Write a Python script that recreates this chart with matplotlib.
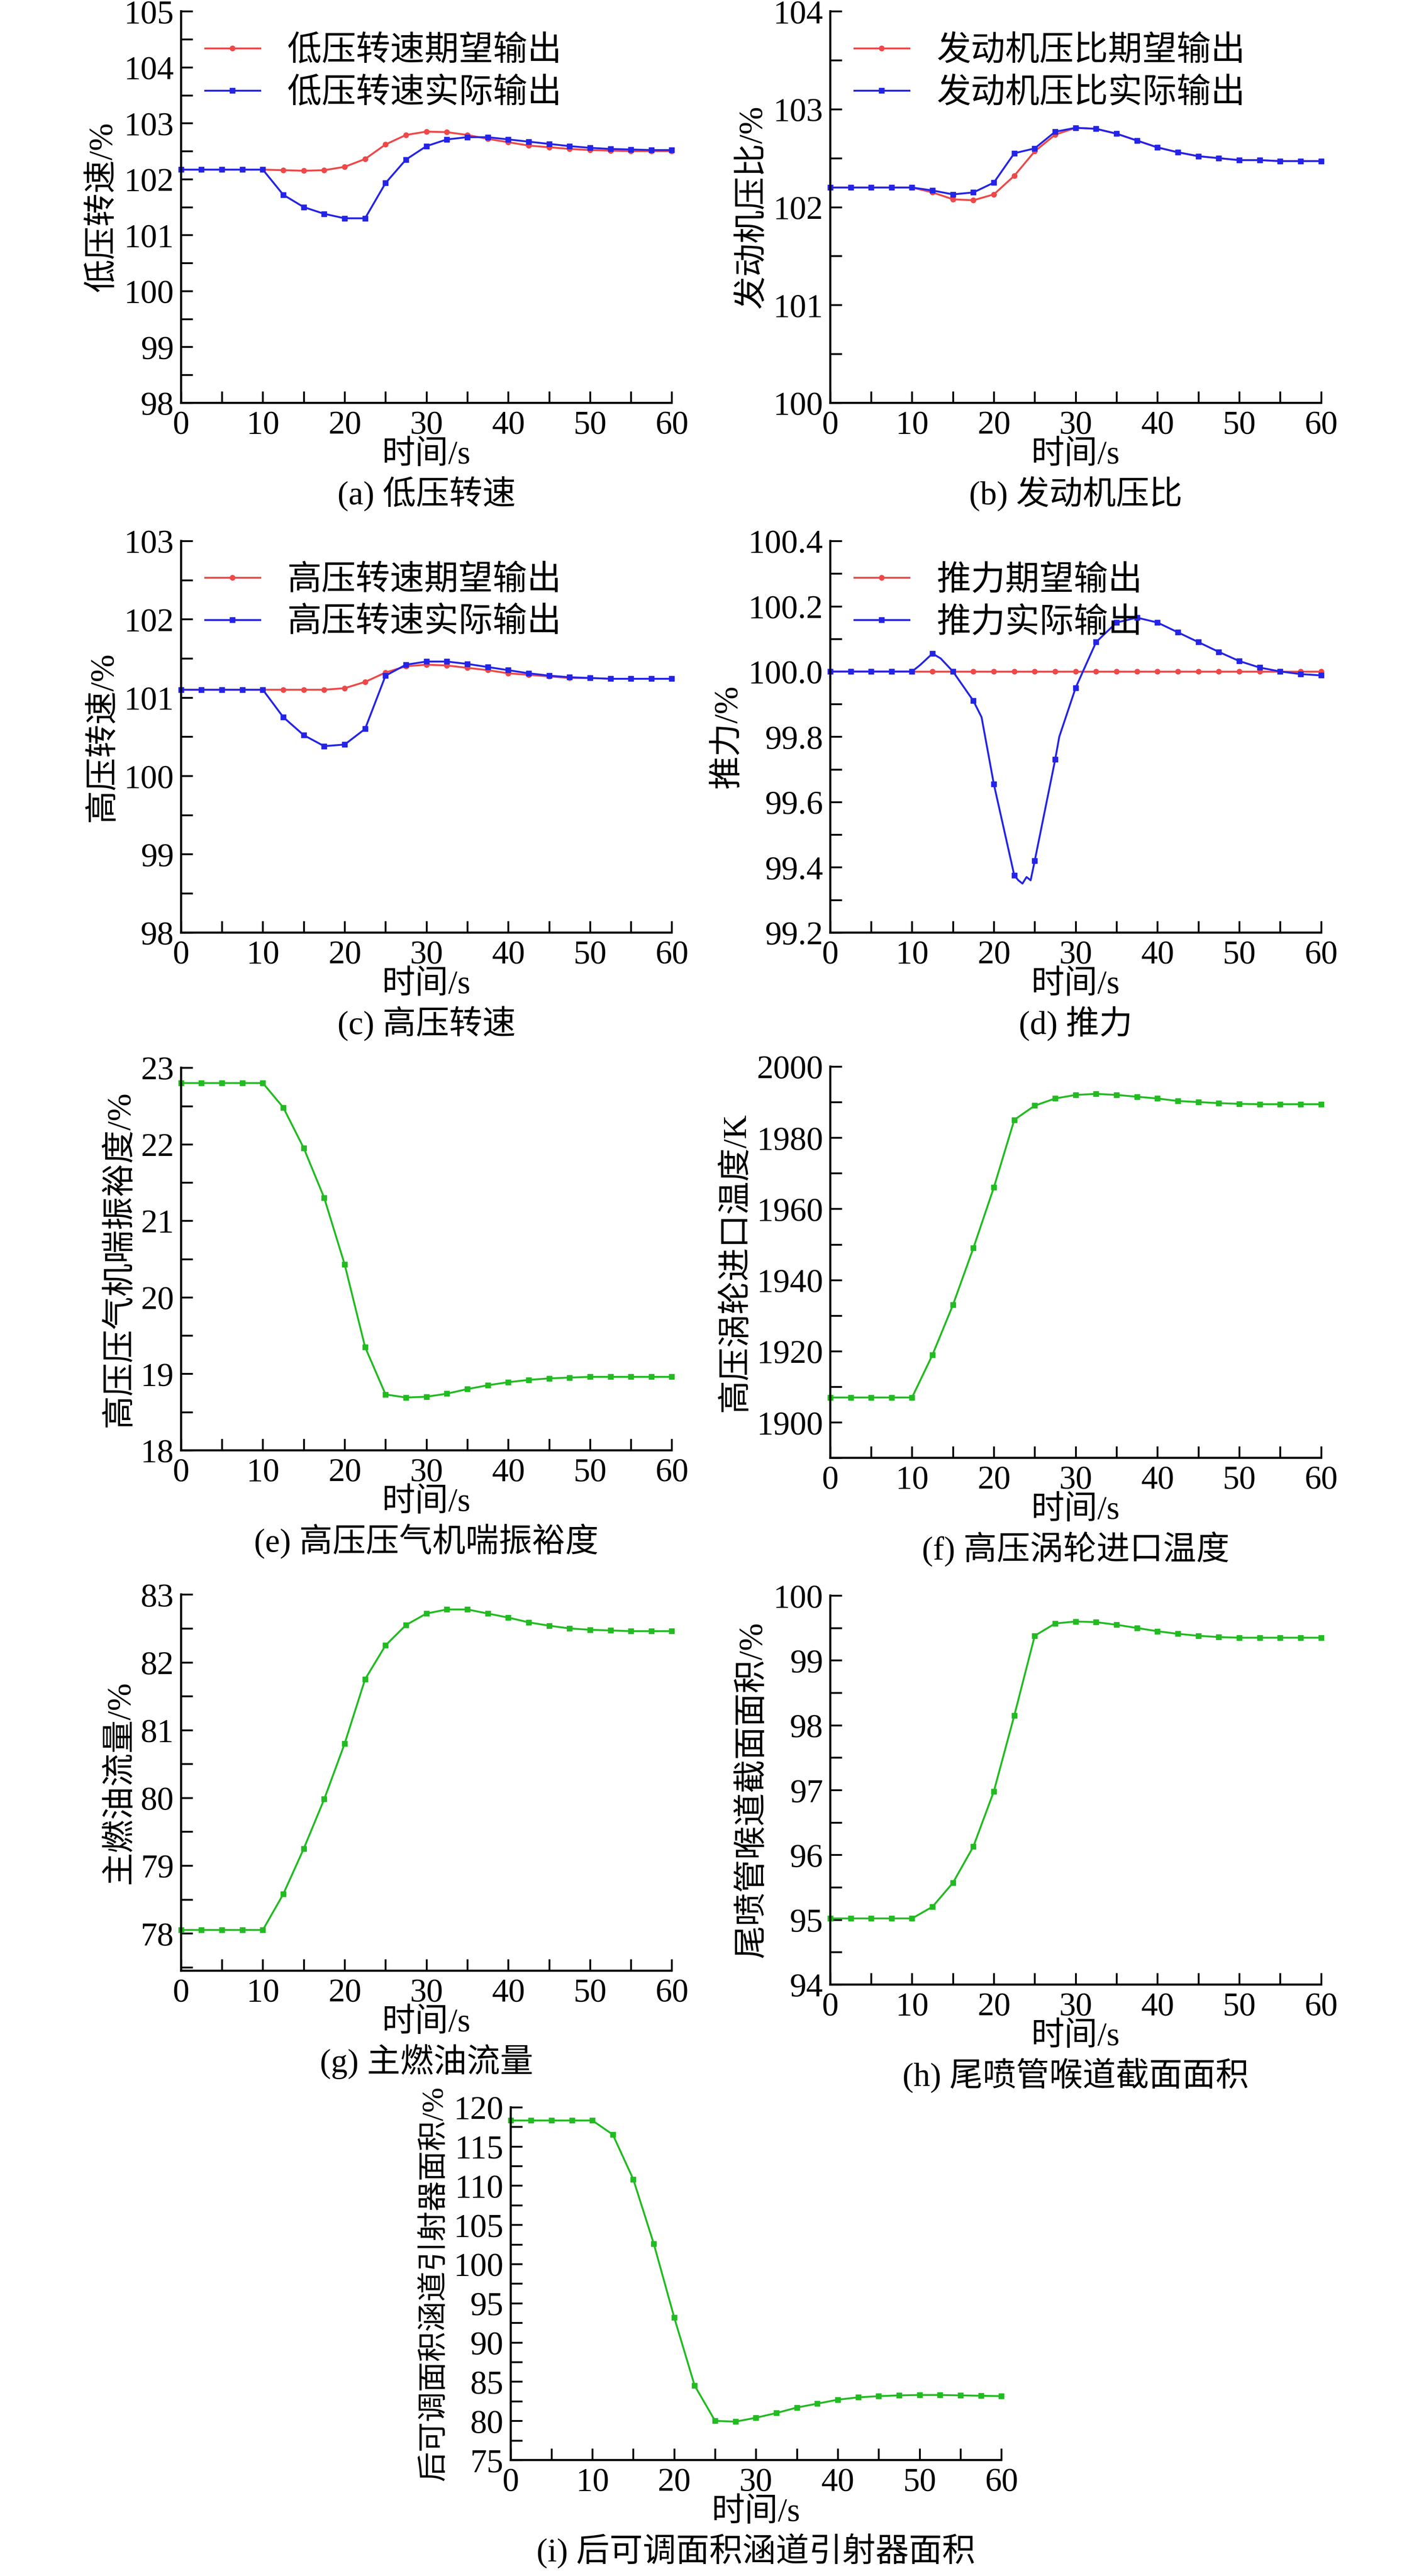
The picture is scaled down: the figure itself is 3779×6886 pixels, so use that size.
import numpy as np
import matplotlib
matplotlib.use("Agg")
import matplotlib.pyplot as plt
from matplotlib.ticker import MultipleLocator

plt.rcParams["font.family"] = ["Liberation Serif", "Noto Sans CJK SC"]
plt.rcParams["font.size"] = 60

t = [0, 2.5, 5, 7.5, 10, 12.5, 15, 17.5, 20, 22.5, 25, 27.5, 30, 32.5, 35, 37.5,
     40, 42.5, 45, 47.5, 50, 52.5, 55, 57.5, 60]

lp_exp = [102.17, 102.17, 102.17, 102.17, 102.17, 102.16, 102.15, 102.16, 102.22, 102.36, 102.62, 102.79,
          102.85, 102.84, 102.79, 102.72, 102.66, 102.60, 102.57, 102.54, 102.52, 102.51, 102.50, 102.50, 102.50]
lp_act = [102.17, 102.17, 102.17, 102.17, 102.17, 101.72, 101.50, 101.38, 101.30, 101.30, 101.93, 102.35,
          102.59, 102.71, 102.75, 102.75, 102.71, 102.67, 102.63, 102.59, 102.56, 102.54, 102.53, 102.52, 102.52]

pr_exp = [102.2, 102.2, 102.2, 102.2, 102.2, 102.15, 102.08, 102.07, 102.13, 102.32, 102.57, 102.74,
          102.81, 102.80, 102.75, 102.68, 102.61, 102.56, 102.52, 102.50, 102.48, 102.48, 102.47, 102.47, 102.47]
pr_act = [102.2, 102.2, 102.2, 102.2, 102.2, 102.17, 102.13, 102.15, 102.25, 102.55, 102.60, 102.77,
          102.81, 102.80, 102.75, 102.68, 102.61, 102.56, 102.52, 102.50, 102.48, 102.48, 102.47, 102.47, 102.47]

hp_exp = [101.1, 101.1, 101.1, 101.1, 101.1, 101.1, 101.1, 101.1, 101.12, 101.2, 101.32, 101.40,
          101.42, 101.41, 101.38, 101.35, 101.31, 101.29, 101.27, 101.25, 101.25, 101.24, 101.24, 101.24, 101.24]
hp_act = [101.1, 101.1, 101.1, 101.1, 101.1, 100.75, 100.52, 100.38, 100.40, 100.60, 101.28, 101.42,
          101.46, 101.46, 101.43, 101.39, 101.35, 101.31, 101.28, 101.26, 101.25, 101.24, 101.24, 101.24, 101.24]

thr_t = [0, 2.5, 5, 7.5, 10, 11, 12.5, 13.5, 15, 17.5, 18.5, 20, 22.5, 23, 23.5, 24, 24.5, 25, 27.5, 28,
         30, 32.5, 35, 37.5, 40, 42.5, 45, 47.5, 50, 52.5, 55, 57.5, 60]
thr_act = [100.0, 100.0, 100.0, 100.0, 100.0, 100.02, 100.055, 100.04, 100.0, 99.91, 99.86, 99.655, 99.375,
           99.36, 99.35, 99.37, 99.36, 99.42, 99.73, 99.80, 99.95, 100.09, 100.15, 100.165, 100.15, 100.12,
           100.09, 100.06, 100.032, 100.012, 100.0, 99.992, 99.988]
thr_exp = [100.0] * len(t)

surge = [22.8, 22.8, 22.8, 22.8, 22.8, 22.48, 21.95, 21.3, 20.43, 19.35, 18.73, 18.69, 18.70, 18.74, 18.80,
         18.85, 18.89, 18.92, 18.94, 18.95, 18.96, 18.96, 18.96, 18.96, 18.96]
t4 = [1907, 1907, 1907, 1907, 1907, 1919, 1933, 1949, 1966, 1985, 1989, 1991, 1992, 1992.3, 1992, 1991.5,
      1991, 1990.3, 1990, 1989.7, 1989.5, 1989.4, 1989.4, 1989.4, 1989.4]
fuel = [78.05, 78.05, 78.05, 78.05, 78.05, 78.58, 79.25, 79.98, 80.8, 81.75, 82.25, 82.55, 82.72, 82.78,
        82.78, 82.72, 82.66, 82.59, 82.54, 82.50, 82.48, 82.47, 82.46, 82.46, 82.46]
nozzle = [95.02, 95.02, 95.02, 95.02, 95.02, 95.2, 95.57, 96.13, 96.98, 98.15, 99.38, 99.57, 99.60, 99.59,
          99.55, 99.50, 99.45, 99.41, 99.38, 99.36, 99.35, 99.35, 99.35, 99.35, 99.35]
rvabi = [118.3, 118.3, 118.3, 118.3, 118.3, 116.5, 110.8, 102.6, 93.2, 84.5, 80.0, 79.9, 80.4, 81.0, 81.7,
         82.2, 82.7, 83.0, 83.15, 83.25, 83.3, 83.3, 83.25, 83.2, 83.15]

RED = "#f04848"
BLUE = "#2424e8"
GREEN = "#22bb22"
LW = 3.6
MS = 10

fig = plt.figure(figsize=(37.8, 68.86), dpi=100)


def make_ax(rect, ylim, major, minor, ylabel, caption, ylab_fs=64):
    ax = fig.add_axes(rect)
    ax.set_xlim(0, 60)
    ax.set_ylim(*ylim)
    ax.xaxis.set_major_locator(MultipleLocator(10))
    ax.xaxis.set_minor_locator(MultipleLocator(5))
    ax.yaxis.set_major_locator(MultipleLocator(major))
    ax.yaxis.set_minor_locator(MultipleLocator(minor))
    for s in ["top", "right"]:
        ax.spines[s].set_visible(False)
    for s in ["left", "bottom"]:
        ax.spines[s].set_linewidth(4)
    ax.tick_params(which="major", direction="in", length=22, width=3.5, labelsize=64, pad=14)
    ax.tick_params(which="minor", direction="in", length=22, width=3.5)
    ax.set_xlabel("时间/s", fontsize=64, labelpad=0)
    ax.set_ylabel(ylabel, fontsize=ylab_fs, labelpad=10)
    ax.annotate(caption, xy=(0.5, 0), xycoords="axes fraction", xytext=(0, -175),
                textcoords="offset points", ha="center", va="center", fontsize=64)
    return ax


def pair(ax, x, exp, act, xa, lab_exp, lab_act, fmt=None):
    ax.plot(x, exp, color=RED, lw=LW, marker="o", ms=MS, label=lab_exp, clip_on=False)
    mk = [v % 2.5 == 0 for v in xa]
    ax.plot(xa, act, color=BLUE, lw=LW, marker="s", ms=MS, markevery=mk, label=lab_act, clip_on=False)
    ax.legend(loc="upper left", frameon=False, fontsize=66, handlelength=1.6,
              borderaxespad=0.3, labelspacing=0.3)
    if fmt:
        ax.yaxis.set_major_formatter(fmt)


L1, L2, W = 0.128, 0.587, 0.347

ax = make_ax([L1, 0.8436, W, 0.152], (98, 105), 1, 0.5, "低压转速/%", "(a) 低压转速")
pair(ax, t, lp_exp, lp_act, t, "低压转速期望输出", "低压转速实际输出")

ax = make_ax([L2, 0.8436, W, 0.152], (100, 104), 1, 0.5, "发动机压比/%", "(b) 发动机压比")
pair(ax, t, pr_exp, pr_act, t, "发动机压比期望输出", "发动机压比实际输出")

ax = make_ax([L1, 0.638, W, 0.152], (98, 103), 1, 0.5, "高压转速/%", "(c) 高压转速")
pair(ax, t, hp_exp, hp_act, t, "高压转速期望输出", "高压转速实际输出")

ax = make_ax([L2, 0.638, W, 0.152], (99.2, 100.4), 0.2, 0.1, "推力/%", "(d) 推力")
pair(ax, t, thr_exp, thr_act, thr_t, "推力期望输出", "推力实际输出",
     fmt=matplotlib.ticker.FormatStrFormatter("%.1f"))

singles = [
    ([L1, 0.437, W, 0.1485], (18, 23), 1, 0.5, surge, "高压压气机喘振裕度/%", "(e) 高压压气机喘振裕度", 64),
    ([L2, 0.434, W, 0.152], (1890, 2000), 20, 10, t4, "高压涡轮进口温度/K", "(f) 高压涡轮进口温度", 64),
    ([L1, 0.235, W, 0.146], (77.45, 83), 1, 0.5, fuel, "主燃油流量/%", "(g) 主燃油流量", 64),
    ([L2, 0.2296, W, 0.151], (94, 100), 1, 0.5, nozzle, "尾喷管喉道截面面积/%", "(h) 尾喷管喉道截面面积", 64),
    ([0.361, 0.045, W, 0.137], (75, 120), 5, 2.5, rvabi, "后可调面积涵道引射器面积/%",
     "(i) 后可调面积涵道引射器面积", 58),
]
for rect, ylim, major, minor, vals, ylabel, caption, fs in singles:
    ax = make_ax(rect, ylim, major, minor, ylabel, caption, fs)
    ax.plot(t, vals, color=GREEN, lw=LW, marker="s", ms=MS, clip_on=False)

fig.savefig("out.png", dpi=100, facecolor="white")
